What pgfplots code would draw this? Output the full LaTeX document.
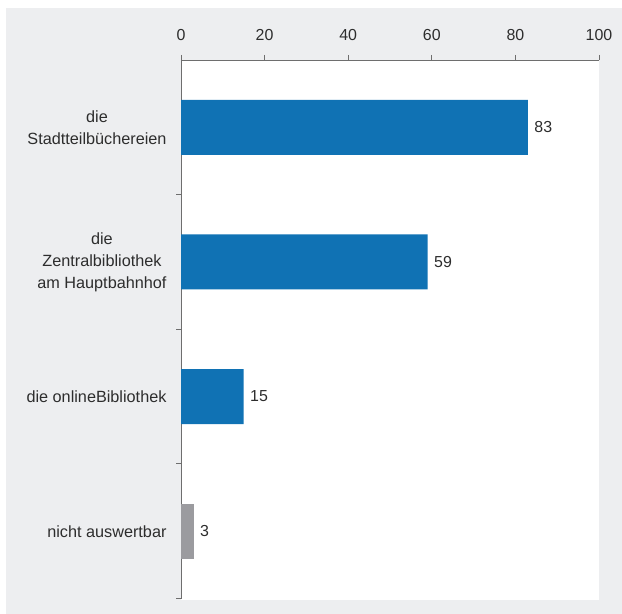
\documentclass[border=0pt]{standalone}
\usepackage{pgfplots}
\pgfplotsset{compat=1.18}
\usepackage{fontspec}
\setmainfont{Liberation Sans}
\definecolor{bggray}{RGB}{237,238,240}
\definecolor{barblue}{RGB}{16,114,180}
\definecolor{bargray}{RGB}{155,155,159}
\definecolor{axisgray}{RGB}{110,110,110}
\definecolor{textcol}{RGB}{45,45,45}
\begin{document}
\begin{tikzpicture}
\useasboundingbox (0,0) rectangle (622bp,614bp);
\fill[bggray] (6bp,0) rectangle (622bp,606bp);
\fill[white] (181bp,14bp) rectangle (599bp,554bp);
\begin{axis}[
  scale only axis, width=418bp, height=538.5bp,
  at={(181bp,15.5bp)}, anchor=south west,
  xbar, bar width=55bp, bar shift=0pt,
  xmin=0, xmax=100, ymin=-0.5, ymax=3.5,
  axis x line*=top, axis y line*=left,
  axis line style={draw=axisgray, line width=0.8bp, -},
  tick style={draw=axisgray, line width=0.8bp},
  tick align=outside, major tick length=5bp,
  xtick={0,20,...,100},
  ytick={-0.5,0.5,1.5,2.5},
  yticklabels={nicht auswertbar, die onlineBibliothek, {die\\Zentralbibliothek\\am Hauptbahnhof}, {die\\Stadtteilbüchereien}},
  /pgf/number format/assume math mode=true,
  xticklabel style={font=\fontsize{16}{18}\selectfont, text=textcol, yshift=11bp},
  yticklabel style={font=\fontsize{16.3}{22}\selectfont, text=textcol, align=center, yshift=67.3bp, xshift=-6bp},
  point meta=x,
  nodes near coords,
  nodes near coords style={font=\fontsize{16}{18}\selectfont, text=textcol, anchor=west, xshift=3bp},
  clip=false,
]
\addplot[fill=barblue, draw=none] coordinates {(83,3) (59,2) (15,1)};
\addplot[fill=bargray, draw=none] coordinates {(3,0)};
\end{axis}
\end{tikzpicture}
\end{document}
